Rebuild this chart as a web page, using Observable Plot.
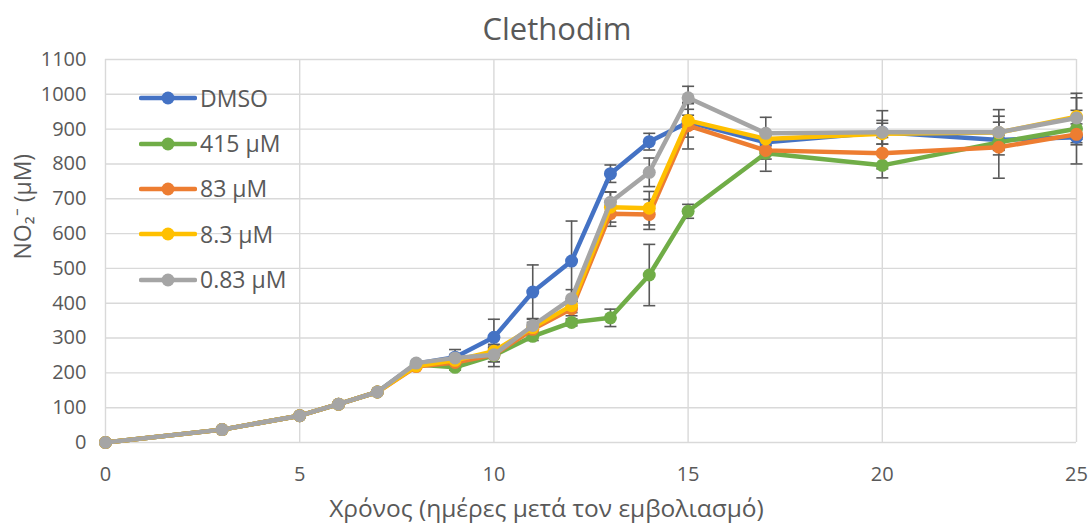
<!DOCTYPE html>
<html><head><meta charset="utf-8">
<script src="https://cdn.jsdelivr.net/npm/d3@7"></script>
<script src="https://cdn.jsdelivr.net/npm/@observablehq/plot@0.6"></script>
<style>
body{margin:0;background:#fff;font-family:"Open Sans",sans-serif}
#wrap{position:relative;width:1091px;height:524px;overflow:hidden}
#legend{position:absolute;left:139px;top:75.5px}
.item{display:flex;align-items:center;height:45.4px;font-size:23px;color:#595959;line-height:1}
.item svg{margin-right:3px}
</style></head><body><div id="wrap"><div id="legend"></div></div>
<script>
const days = [0,3,5,6,7,8,9,10,11,12,13,14,15,17,20,23,25];
const seriesNames = ["DMSO","415 μM","83 μM","8.3 μM","0.83 μM"];
const seriesColors = ["#4472C4","#70AD47","#ED7D31","#FFC000","#A5A5A5"];
const dmso    = [0,37,77,110,145,226,245,302,432,521,772,864,920,862,891,869,877];
const dmsoErr = [0,0,0,0,0,0,22,52,78,115,25,24,20,25,34,30,77];
const c415    = [0,37,77,110,145,224,216,250,305,345,358,481,664,831,796,862,901];
const c415Err = [0,0,0,0,0,0,8,32,12,10,25,88,20,52,36,20,30];
const c83     = [0,37,77,110,145,218,230,252,325,384,657,655,910,839,831,848,885];
const c83Err  = [0,0,0,0,0,0,10,20,15,20,36,43,67,25,45,89,30];
const c8_3    = [0,37,77,110,145,220,236,262,330,393,676,673,925,872,887,890,936];
const c8_3Err = [0,0,0,0,0,0,10,15,15,20,43,48,48,20,30,30,54];
const c0_83   = [0,37,77,110,145,228,243,252,336,413,690,776,990,888,891,891,932];
const c0_83Err= [0,0,0,0,0,0,10,20,20,26,30,41,33,46,62,65,71];
const xTicks = [0,5,10,15,20,25];
const yTicks = [0,100,200,300,400,500,600,700,800,900,1000,1100];
const title = "Clethodim";
const xLabel = "Χρόνος (ημέρες μετά τον εμβολιασμό)";
const yLabel = "NO₂⁻ (μM)";

const values = [dmso,c415,c83,c8_3,c0_83];
const errors = [dmsoErr,c415Err,c83Err,c8_3Err,c0_83Err];
const rows = [];
seriesNames.forEach((s,i)=>days.forEach((d,j)=>rows.push({series:s, day:d, value:values[i][j], err:errors[i][j]})));
const errRows = rows.filter(r=>r.err>0);
const capSymbol = {draw(ctx,size){const w=Math.sqrt(size/Math.PI);ctx.moveTo(-w,0);ctx.lineTo(w,0);}};
const ink = "#595959";

const marks = [
  Plot.gridX(xTicks,{stroke:"#D9D9D9",strokeOpacity:1,strokeWidth:1.4}),
  Plot.gridY(yTicks,{stroke:"#D9D9D9",strokeOpacity:1,strokeWidth:1.4}),
  Plot.axisX({ticks:xTicks,tickSize:0,tickPadding:24,fontSize:20,label:null,color:ink,tickFormat:d=>String(d)}),
  Plot.axisY({ticks:yTicks,tickSize:0,tickPadding:19,fontSize:20,label:null,color:ink,tickFormat:d=>String(d)}),
  Plot.ruleX(errRows,{x:"day",y1:r=>r.value-r.err,y2:r=>r.value+r.err,stroke:ink,strokeWidth:1.6}),
  Plot.dot(errRows,{x:"day",y:r=>r.value+r.err,symbol:capSymbol,r:6,stroke:ink,strokeWidth:1.6,fill:"none"}),
  Plot.dot(errRows,{x:"day",y:r=>r.value-r.err,symbol:capSymbol,r:6,stroke:ink,strokeWidth:1.6,fill:"none"})
];
seriesNames.forEach((s,i)=>{
  const d = rows.filter(r=>r.series===s);
  marks.push(Plot.line(d,{x:"day",y:"value",stroke:seriesColors[i],strokeWidth:4.5,strokeLinejoin:"round"}));
  marks.push(Plot.dot(d,{x:"day",y:"value",fill:seriesColors[i],r:6.5}));
});
marks.push(Plot.text([title],{text:d=>d,frameAnchor:"top",dx:-34,dy:-29.5,lineAnchor:"middle",fontSize:31,fill:ink}));
marks.push(Plot.text([xLabel],{text:d=>d,frameAnchor:"bottom",dx:-44.5,dy:67,lineAnchor:"middle",fontSize:24.5,fill:ink}));
marks.push(Plot.text([yLabel],{text:d=>d,frameAnchor:"left",dx:-82,dy:8.5,rotate:-90,lineAnchor:"middle",fontSize:23,fill:ink}));

const chart = Plot.plot({
  width:1091, height:524,
  marginTop:59, marginBottom:82, marginLeft:105, marginRight:15,
  style:{fontFamily:"'Open Sans', sans-serif", background:"white", color:ink, overflow:"visible"},
  x:{domain:[0,25]},
  y:{domain:[0,1100]},
  marks
});
const wrap = document.getElementById("wrap");
wrap.insertBefore(chart, wrap.firstChild);

const legend = document.getElementById("legend");
seriesNames.forEach((s,i)=>{
  const item = document.createElement("div");
  item.className="item";
  item.innerHTML = `<svg width="58" height="16"><line x1="2" y1="8" x2="56" y2="8" stroke="${seriesColors[i]}" stroke-width="4.5" stroke-linecap="round"/><circle cx="29" cy="8" r="6.5" fill="${seriesColors[i]}"/></svg><span>${s}</span>`;
  legend.appendChild(item);
});
</script></body></html>
